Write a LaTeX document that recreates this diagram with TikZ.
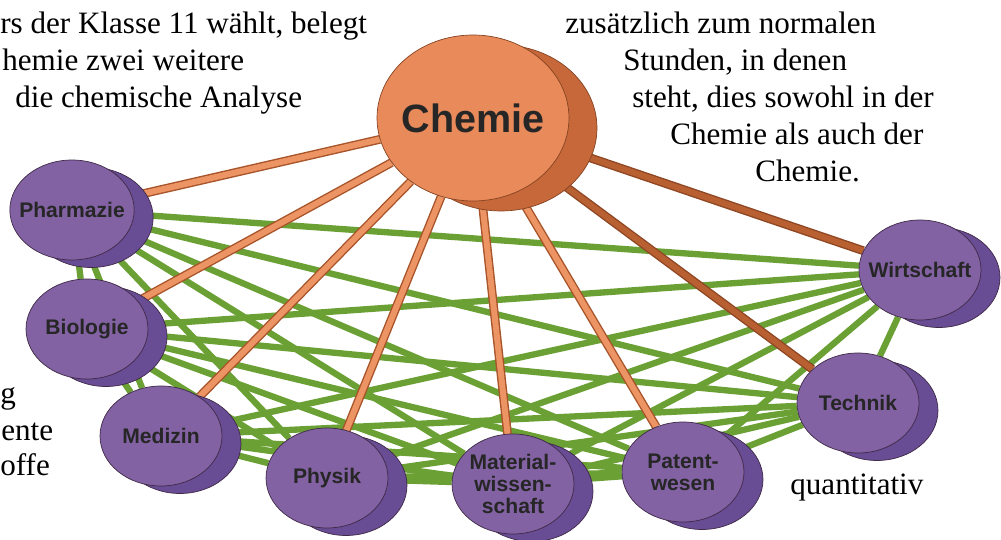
\documentclass[tikz,border=0pt]{standalone}
\usepackage{fontspec}
\setmainfont{Liberation Serif}
\setsansfont{Liberation Sans}
\usetikzlibrary{shapes.geometric,shadows,backgrounds}

\definecolor{chemfront}{RGB}{232,138,90}
\definecolor{chemback}{RGB}{198,104,58}
\definecolor{fieldfront}{RGB}{130,98,162}
\definecolor{fieldback}{RGB}{104,76,148}
\definecolor{rimline}{RGB}{64,42,72}
\definecolor{netgreen}{RGB}{106,160,52}
\definecolor{spokefill}{RGB}{236,148,100}
\definecolor{spokeedge}{RGB}{168,84,42}
\definecolor{spokedark}{RGB}{184,96,50}

\tikzset{
  field/.style={ellipse, draw=rimline, line width=0.4pt, fill=fieldfront,
    minimum width=2.44cm, minimum height=2cm, inner xsep=-5pt, inner ysep=0pt, align=center,
    font=\sffamily\bfseries\fontsize{12}{12.5}\selectfont, text=black!85,
    copy shadow={shadow xshift=0.38cm, shadow yshift=-0.15cm, fill=fieldback, draw=rimline}},
  hub/.style={ellipse, draw=spokeedge!80!black, line width=0.4pt, fill=chemfront,
    minimum width=3.84cm, minimum height=3.32cm, inner xsep=-6pt, inner ysep=0pt,
    font=\sffamily\bfseries\fontsize{22.5}{24}\selectfont, text=black!85,
    copy shadow={shadow xshift=0.56cm, shadow yshift=-0.2cm, fill=chemback, draw=spokeedge!80!black}},
  net/.style={draw=netgreen, line width=3.6pt},
  spoke/.style={draw=spokeedge, line width=0.8pt, double=spokefill, double distance=3.4pt},
  darkspoke/.style={draw=spokeedge!85!black, line width=0.8pt, double=spokedark, double distance=3.4pt},
  prose/.style={inner sep=0pt, font=\fontsize{17.7}{21}\selectfont}
}

\begin{document}
\begin{tikzpicture}[x=0.02cm, y=-0.02cm]
  \useasboundingbox (0,0) rectangle (1001,540);

  % centre
  \node [hub] (chem) at (473,118) {Chemie};

  % subjects
  \node [field] (pharm) at (72,210) {Pharmazie};
  \node [field] (bio) at (87,329) {Biologie};
  \node [field] (med) at (161,436) {Medizin};
  \node [field] (phys) at (327,478) {Physik};
  \node [field] (mat) at (513,484) {Material-\\wissen-\\schaft};
  \node [field] (pat) at (683,472) {Patent-\\wesen};
  \node [field] (tech) at (858,403) {Technik};
  \node [field] (wirt) at (920,270) {Wirtschaft};

  \begin{pgfonlayer}{background}
    \draw[net] (pharm) -- (bio) (pharm) -- (med) (pharm) -- (phys) (pharm) -- (mat)
               (pharm) -- (pat) (pharm) -- (tech) (pharm) -- (wirt);
    \draw[net] (bio) -- (med) (bio) -- (phys) (bio) -- (mat) (bio) -- (pat)
               (bio) -- (tech) (bio) -- (wirt);
    \draw[net] (med) -- (phys) (med) -- (mat) (med) -- (pat) (med) -- (tech) (med) -- (wirt);
    \draw[net] (phys) -- (mat) (phys) -- (pat) (phys) -- (tech) (phys) -- (wirt);
    \draw[net] (mat) -- (pat) (mat) -- (tech) (mat) -- (wirt);
    \draw[net] (pat) -- (tech) (pat) -- (wirt);
    \draw[net] (tech) -- (wirt);

    \draw[spoke] (chem) -- (pharm);
    \draw[spoke] (chem) -- (bio);
    \draw[spoke] (chem) -- (med);
    \draw[spoke] (chem) -- (phys);
    \draw[spoke] (chem) -- (mat);
    \draw[spoke] (chem) -- (pat);
    \draw[darkspoke] (chem) -- (tech);
    \draw[darkspoke] (chem) -- (wirt);
  \end{pgfonlayer}

  % text around the picture
  \node [prose, anchor=base west] (intro1) at (0,34) {rs der Klasse 11 wählt, belegt};
  \node [prose, anchor=base west] (intro2) at (2,71) {hemie zwei weitere};
  \node [prose, anchor=base west] (intro3) at (15,108) {die chemische Analyse};

  \node [prose, anchor=base west] (note1) at (565,34) {zusätzlich zum normalen};
  \node [prose, anchor=base west] (note2) at (623,71) {Stunden, in denen};
  \node [prose, anchor=base west] (note3) at (632,108) {steht, dies sowohl in der};
  \node [prose, anchor=base west] (note4) at (670,145) {Chemie als auch der};
  \node [prose, anchor=base west] (note5) at (755,182) {Chemie.};

  \node [prose, anchor=base west] (cut1) at (0,404) {g};
  \node [prose, anchor=base west] (cut2) at (1,440) {ente};
  \node [prose, anchor=base west] (cut3) at (0,476) {offe};

  \node [prose, anchor=base west] (quant) at (790,495) {quantitativ};
\end{tikzpicture}
\end{document}
